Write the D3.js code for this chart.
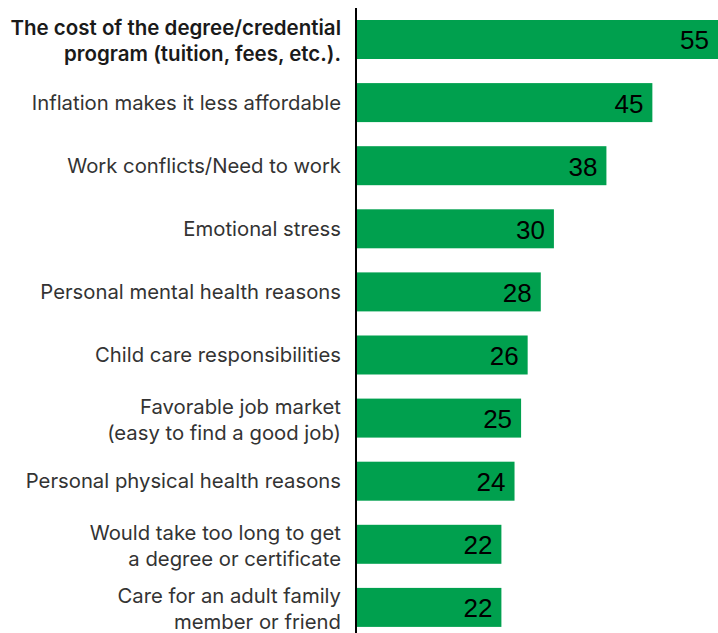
<!DOCTYPE html>
<html>
<head>
<meta charset="utf-8">
<script src="https://cdn.jsdelivr.net/npm/d3@7"></script>
<style>
  html, body { margin: 0; padding: 0; background: #fff; }
  svg { display: block; }
</style>
</head>
<body>
<svg id="chart" width="718" height="633"></svg>
<script>
const categories = [
  ["The cost of the degree/credential", "program (tuition, fees, etc.)."],
  ["Inflation makes it less affordable"],
  ["Work conflicts/Need to work"],
  ["Emotional stress"],
  ["Personal mental health reasons"],
  ["Child care responsibilities"],
  ["Favorable job market", "(easy to find a good job)"],
  ["Personal physical health reasons"],
  ["Would take too long to get", "a degree or certificate"],
  ["Care for an adult family", "member or friend"]
];
const values = [55, 45, 38, 30, 28, 26, 25, 24, 22, 22];
const boldIndex = [0];

const width = 718, height = 633;
const axisX = 356;
const svg = d3.select("#chart");

const x = d3.scaleLinear().domain([0, 55]).range([axisX + 1, 718]);

const step = 63.1, pIn = 0.382, pOut = 0.3;
const r0 = 20 - pOut * step;
const r1 = r0 + step * (values.length - pIn + 2 * pOut);
const y = d3.scaleBand()
  .domain(d3.range(values.length))
  .range([r0, r1])
  .paddingInner(pIn)
  .paddingOuter(pOut);

const g = svg.append("g");

// bars
g.selectAll("rect.bar")
  .data(values)
  .join("rect")
  .attr("class", "bar")
  .attr("x", x(0))
  .attr("y", (d, i) => y(i))
  .attr("width", d => x(d) - x(0))
  .attr("height", y.bandwidth())
  .attr("fill", "#00a04e");

// value labels
g.selectAll("text.val")
  .data(values)
  .join("text")
  .attr("class", "val")
  .attr("x", d => x(d) - 9)
  .attr("y", (d, i) => y(i) + y.bandwidth() / 2 + 10)
  .attr("text-anchor", "end")
  .attr("font-family", "'Liberation Sans', Arial, sans-serif")
  .attr("font-size", 26)
  .attr("fill", "#000")
  .text(d => d);

// category labels
const lineH = 26;
const labels = g.selectAll("text.cat")
  .data(categories)
  .join("text")
  .attr("class", "cat")
  .attr("text-anchor", "end")
  .attr("font-family", "Inter, 'Noto Sans', sans-serif")
  .attr("font-size", (d, i) => boldIndex.includes(i) ? 20.5 : 20.3)
  .attr("font-weight", (d, i) => boldIndex.includes(i) ? 600 : 400)
  .attr("fill", (d, i) => boldIndex.includes(i) ? "#1a1a1a" : "#333");

labels.each(function(lines, i) {
  const cy = y(i) + y.bandwidth() / 2;
  const n = lines.length;
  const off = n > 1 ? 2 : 0;
  d3.select(this).selectAll("tspan")
    .data(lines)
    .join("tspan")
    .attr("x", 341)
    .attr("y", (l, k) => cy + 7 + off + (k - (n - 1) / 2) * lineH)
    .text(l => l);
});

// axis line
svg.append("line")
  .attr("x1", axisX).attr("x2", axisX)
  .attr("y1", 8).attr("y2", height)
  .attr("stroke", "#000")
  .attr("stroke-width", 2);
</script>
</body>
</html>
